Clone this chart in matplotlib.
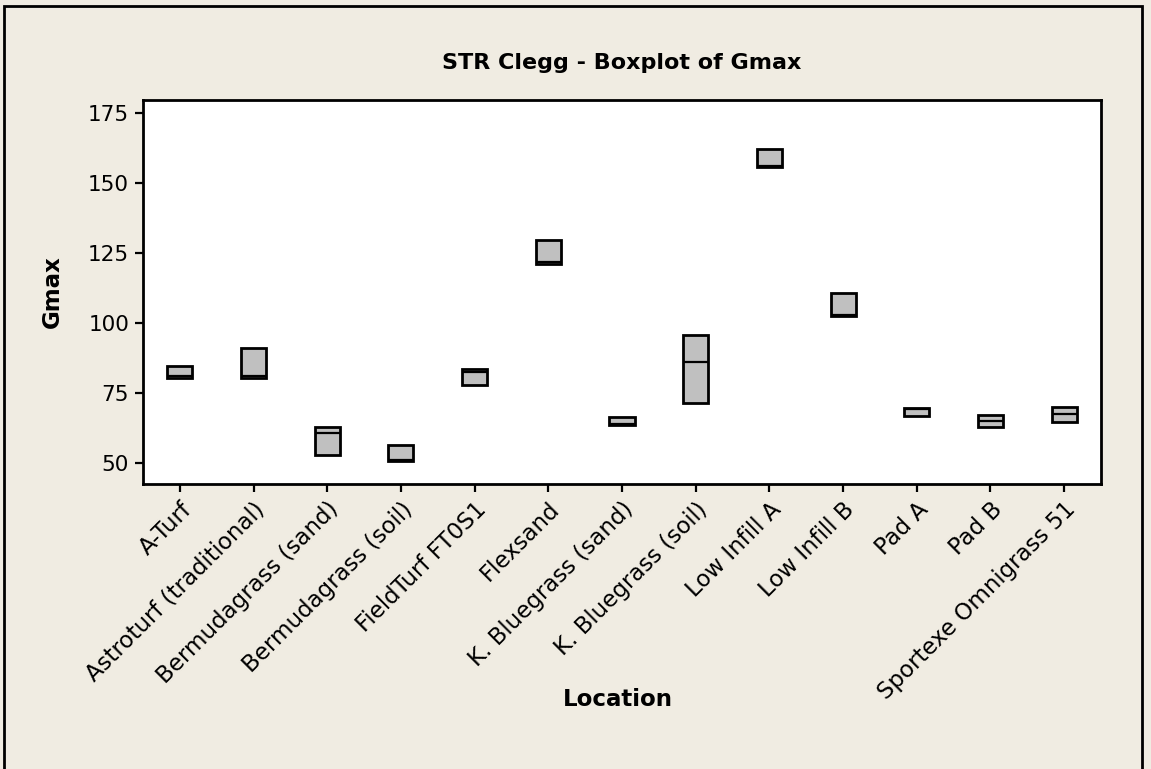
import matplotlib
matplotlib.use("Agg")
import matplotlib.pyplot as plt
from matplotlib.patches import Rectangle

# Box summaries (Q1, median, Q3)
locations = [
    "A-Turf", "Astroturf (traditional)", "Bermudagrass (sand)",
    "Bermudagrass (soil)", "FieldTurf FT0S1", "Flexsand",
    "K. Bluegrass (sand)", "K. Bluegrass (soil)", "Low Infill A",
    "Low Infill B", "Pad A", "Pad B", "Sportexe Omnigrass 51",
]
q1 = [80.5, 80.5, 52.8, 50.6, 77.7, 121.2, 63.4, 71.3, 155.8, 102.5, 66.8, 62.7, 64.8]
medians = [80.9, 80.9, 60.7, 51.0, 82.5, 121.6, 63.8, 86.1, 156.2, 102.9, 69.2, 65.0, 67.4]
q3 = [84.8, 91.2, 62.8, 56.4, 83.5, 129.5, 66.5, 95.6, 162.2, 110.6, 69.5, 67.3, 70.1]
y_ticks = [50, 75, 100, 125, 150, 175]

bg = "#f0ece2"
plt.rcParams["font.family"] = ["DejaVu Sans"]

fig = plt.figure(figsize=(11.51, 7.69), dpi=100)
fig.patch.set_facecolor(bg)
ax = fig.add_axes([143 / 1151, 1 - 484 / 769, (1101 - 143) / 1151, (484 - 100) / 769])
ax.set_facecolor("white")

stats = []
for name, a, m, b in zip(locations, q1, medians, q3):
    stats.append(dict(label=name, q1=a, med=m, q3=b, whislo=a, whishi=b, fliers=[]))

ax.bxp(
    stats,
    positions=range(1, len(stats) + 1),
    widths=0.34,
    patch_artist=True,
    showcaps=False,
    boxprops=dict(facecolor="#c0c0c0", edgecolor="black", linewidth=2.0),
    medianprops=dict(color="black", linewidth=1.6),
    whiskerprops=dict(linewidth=0),
)

ax.set_xlim(0.5, len(locations) + 0.5)
ax.set_ylim(42.5, 179.6)
ax.set_yticks(y_ticks)
ax.set_xticks(range(1, len(locations) + 1))
ax.set_xticklabels(locations, rotation=45, ha="right", rotation_mode="anchor")
ax.tick_params(axis="both", direction="out", length=6, width=1.6, pad=4)
ax.tick_params(axis="x", labelsize=16.5)
ax.tick_params(axis="y", labelsize=15.5)
for s in ax.spines.values():
    s.set_linewidth(2)

ax.set_title("STR Clegg - Boxplot of Gmax", fontsize=16, fontweight="bold", pad=22)
ax.set_ylabel("Gmax", fontsize=16.5, fontweight="bold", labelpad=17)
fig.text(0.5365, 1 - 700 / 769, "Location", fontsize=16.5, fontweight="bold",
         ha="center", va="center")

# outer frame
fig.patches.append(Rectangle((4 / 1151, -0.05), (1142 - 4) / 1151, 1.05 - 6 / 769,
                             transform=fig.transFigure, fill=False,
                             edgecolor="black", linewidth=2))

fig.savefig("out.png", dpi=100, facecolor=bg)
